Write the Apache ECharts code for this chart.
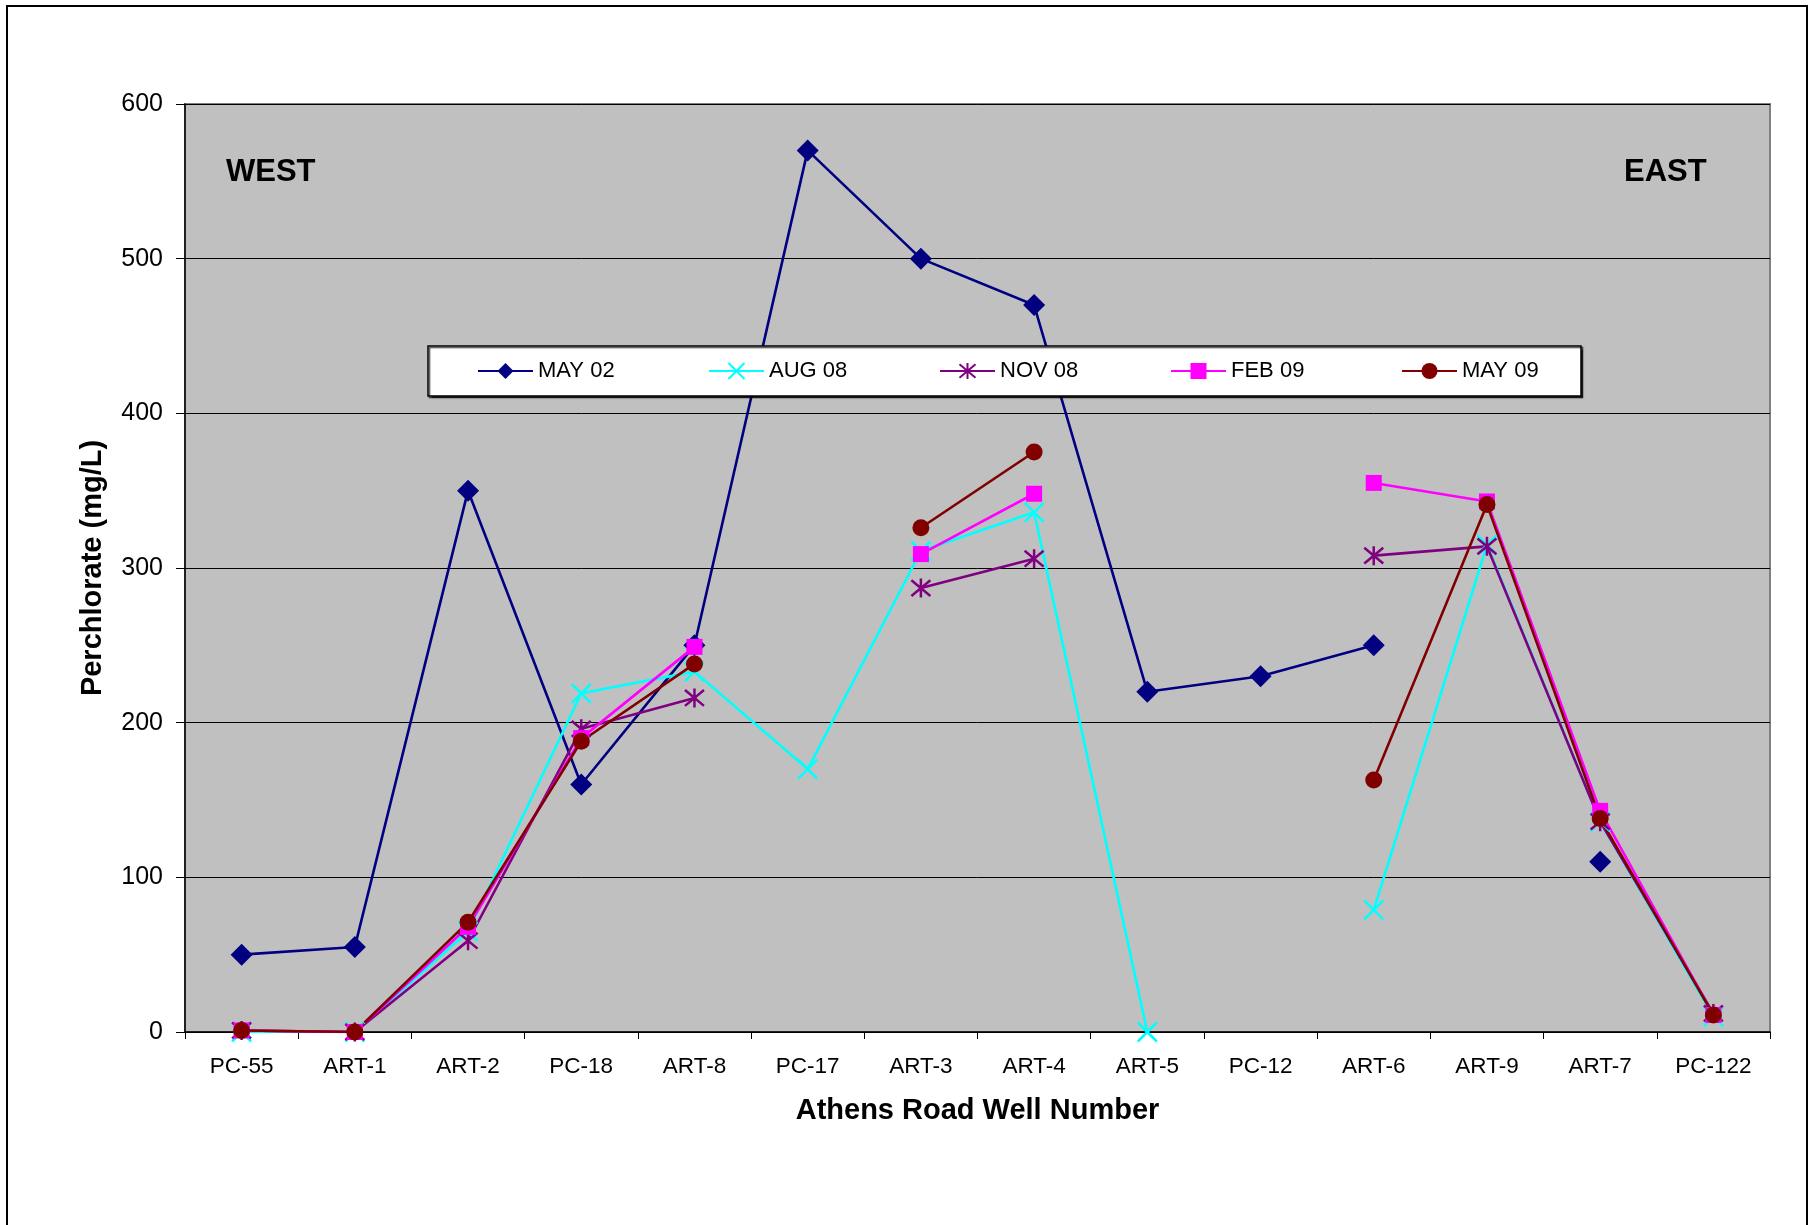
<!DOCTYPE html>
<html>
<head>
<meta charset="utf-8">
<script src="https://cdn.jsdelivr.net/npm/echarts@6/dist/echarts.min.js"></script>
<style>
html,body{margin:0;padding:0;background:#fff;}
#chart{width:1815px;height:1225px;}
</style>
</head>
<body>
<div id="chart"></div>
<script>
const categories = ['PC-55','ART-1','ART-2','PC-18','ART-8','PC-17','ART-3','ART-4','ART-5','PC-12','ART-6','ART-9','ART-7','PC-122'];
const seriesNames = ['MAY 02','AUG 08','NOV 08','FEB 09','MAY 09'];
const may02 = [50, 55, 350, 160, 250, 570, 500, 470, 220, 230, 250, null, 110, null];
const aug08 = [0, 0, 65, 219, 233, 170, 311, 336, 0, null, 79, 315, 136, 10];
const nov08 = [1, 0, 59, 196, 216, null, 287, 306, null, null, 308, 314, 136, 12];
const feb09 = [1, 0, 68, 190, 249, null, 309, 348, null, null, 355, 343, 143, 11];
const may09 = [1, 0, 71, 188, 238, null, 326, 375, null, null, 163, 341, 138, 11];
const yTicks = [0, 100, 200, 300, 400, 500, 600];

const FONT = '"Liberation Sans", Arial, sans-serif';
const X_PATH = 'path://M0,0L10,10M10,0L0,10';
const STAR_PATH = 'path://M0,0L10,10M10,0L0,10M5,-1L5,11';

function lineSeries(name, data, color, symbol, size, stroke) {
  return {
    name: name,
    type: 'line',
    data: data,
    connectNulls: false,
    showAllSymbol: true,
    symbol: symbol,
    symbolSize: size,
    lineStyle: { color: color, width: 2.6 },
    itemStyle: stroke
      ? { color: 'rgba(0,0,0,0)', borderColor: color, borderWidth: 2.5 }
      : { color: color, borderColor: color, borderWidth: 0 },
    emphasis: { disabled: true },
    z: 3
  };
}

const chart = echarts.init(document.getElementById('chart'), null, { renderer: 'canvas' });
chart.setOption({
  animation: false,
  backgroundColor: '#ffffff',
  textStyle: { fontFamily: FONT },
  grid: {
    left: 185, right: 45, top: 104, bottom: 193,
    show: true, backgroundColor: '#C0C0C0', borderColor: '#808080', borderWidth: 2,
    containLabel: false
  },
  legend: {
    left: 428, top: 346,
    orient: 'horizontal',
    padding: [14, 19, 14, 49],
    itemGap: 70,
    itemWidth: 55,
    itemHeight: 20,
    backgroundColor: '#ffffff',
    borderColor: '#000000',
    borderWidth: 1.5,
    borderRadius: 0,
    shadowColor: 'rgba(0,0,0,0.7)',
    shadowBlur: 1,
    shadowOffsetX: 1.5,
    shadowOffsetY: 1.5,
    textStyle: { fontFamily: FONT, fontSize: 22, color: '#000', width: 100, lineHeight: 22 },
    data: seriesNames
  },
  xAxis: {
    type: 'category',
    data: categories,
    boundaryGap: true,
    name: 'Athens Road Well Number',
    nameLocation: 'middle',
    nameGap: 64,
    nameTextStyle: { fontFamily: FONT, fontSize: 29, fontWeight: 'bold', color: '#000' },
    axisLine: { show: true, lineStyle: { color: '#000', width: 1.5 } },
    axisTick: { show: true, alignWithLabel: false, inside: false, length: 7, lineStyle: { color: '#000', width: 1 } },
    axisLabel: { fontFamily: FONT, fontSize: 22.5, color: '#000', margin: 23, interval: 0 },
    splitLine: { show: false }
  },
  yAxis: {
    type: 'value',
    min: 0, max: 600, interval: 100,
    name: 'Perchlorate (mg/L)',
    nameLocation: 'middle',
    nameGap: 78,
    nameRotate: 90,
    nameTextStyle: { fontFamily: FONT, fontSize: 29, fontWeight: 'bold', color: '#000' },
    axisLine: { show: true, lineStyle: { color: '#000', width: 1.5 } },
    axisTick: { show: true, inside: false, length: 9, lineStyle: { color: '#000', width: 1 } },
    axisLabel: {
      fontFamily: FONT, fontSize: 25, color: '#000', margin: 22,
      formatter: function (v) { return yTicks.indexOf(v) >= 0 ? String(v) : ''; }
    },
    splitLine: { show: true, lineStyle: { color: '#000', width: 1 } }
  },
  series: [
    lineSeries('MAY 02', may02, '#000080', 'diamond', 22, false),
    lineSeries('AUG 08', aug08, '#00FFFF', X_PATH, 19, true),
    lineSeries('NOV 08', nov08, '#800080', STAR_PATH, 19, true),
    lineSeries('FEB 09', feb09, '#FF00FF', 'rect', 16, false),
    lineSeries('MAY 09', may09, '#800000', 'circle', 17, false)
  ],
  graphic: [
    { type: 'rect', silent: true, z: -10,
      shape: { x: 7, y: 6, width: 1800, height: 1260 },
      style: { fill: 'none', stroke: '#000', lineWidth: 2 } },
    { type: 'text', left: 226, top: 157, z: 10, silent: true,
      style: { text: 'WEST', font: 'bold 31px ' + FONT, fill: '#000' } },
    { type: 'text', left: 1624, top: 157, z: 10, silent: true,
      style: { text: 'EAST', font: 'bold 31px ' + FONT, fill: '#000' } }
  ]
});
</script>
</body>
</html>
